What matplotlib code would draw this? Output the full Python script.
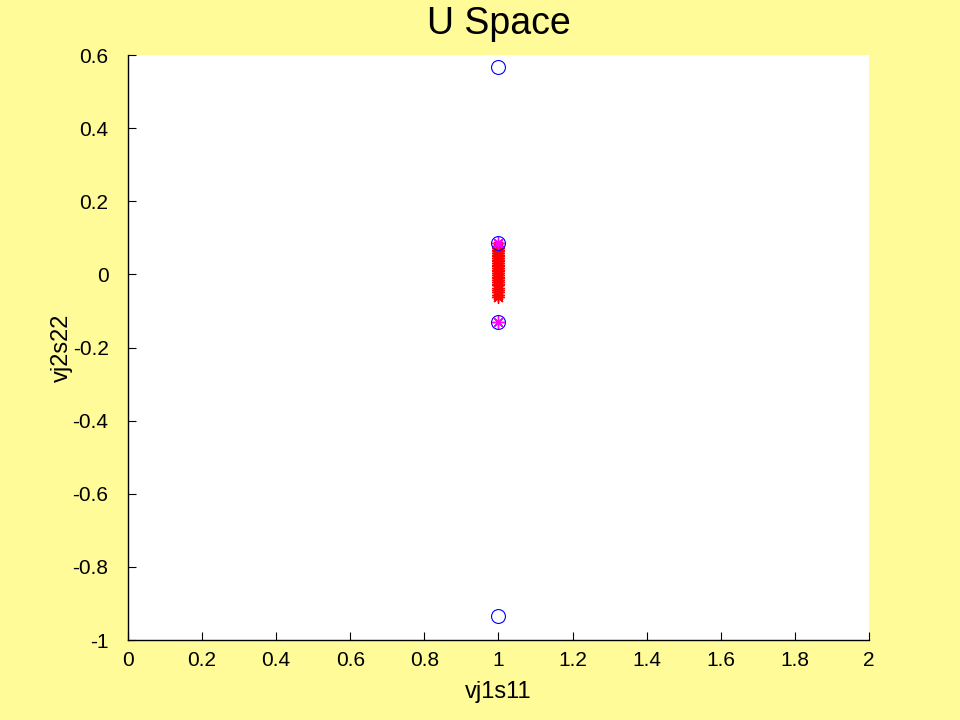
import matplotlib
matplotlib.use("Agg")
import matplotlib.pyplot as plt

plt.rcParams['font.family'] = ['Liberation Sans', 'DejaVu Sans']

# data
circle_x = [1, 1, 1, 1]
circle_y = [0.567, 0.086, -0.131, -0.934]

magenta_x = [1, 1]
magenta_y = [0.086, -0.131]

red_y = [0.078, 0.073, 0.068, 0.064, 0.059, 0.054, 0.050, 0.045, 0.040,
         0.036, 0.031, 0.027, 0.022, 0.017, 0.013, 0.008, 0.004, -0.001,
         -0.006, -0.010, -0.015, -0.020, -0.025, -0.030, -0.036, -0.042,
         -0.049, -0.056, -0.063]
red_x = [1] * len(red_y)

xticks = [0, 0.2, 0.4, 0.6, 0.8, 1, 1.2, 1.4, 1.6, 1.8, 2]
xtick_labels = ["0", "0.2", "0.4", "0.6", "0.8", "1", "1.2", "1.4", "1.6", "1.8", "2"]
yticks = [-1, -0.8, -0.6, -0.4, -0.2, 0, 0.2, 0.4, 0.6]
ytick_labels = ["-1", "-0.8", "-0.6", "-0.4", "-0.2", "0", "0.2", "0.4", "0.6"]

bg = "#FFFB99"
asterisk = (8, 2, 0)

fig = plt.figure(figsize=(9.6, 7.2), dpi=100, facecolor=bg)
ax = fig.add_axes([0.1333, 0.1111, 0.7719, 0.8125])
ax.set_facecolor("white")

ax.plot(red_x, red_y, linestyle="none", marker=asterisk, color="red",
        markersize=9, markeredgewidth=1.0)
ax.plot(magenta_x, magenta_y, linestyle="none", marker=asterisk, color="magenta",
        markersize=9, markeredgewidth=1.0)
ax.plot(circle_x, circle_y, linestyle="none", marker="o", markerfacecolor="none",
        markeredgecolor="blue", markersize=10, markeredgewidth=0.8)

ax.set_xlim(0, 2)
ax.set_ylim(-1, 0.6)
ax.set_xticks(xticks)
ax.set_xticklabels(xtick_labels)
ax.set_yticks(yticks)
ax.set_yticklabels(ytick_labels)

ax.spines["top"].set_visible(False)
ax.spines["right"].set_visible(False)
ax.spines["left"].set_linewidth(1.0)
ax.spines["bottom"].set_linewidth(1.0)
ax.tick_params(direction="in", length=6, width=0.8, labelsize=15)
ax.tick_params(axis="x", pad=8)
ax.tick_params(axis="y", pad=14)

ax.set_xlabel("vj1s11", fontsize=17, labelpad=8)
ax.set_ylabel("vj2s22", fontsize=17, labelpad=0)
ax.set_title("U Space", fontsize=27, pad=15)

fig.savefig("out.png", dpi=100, facecolor=bg)
